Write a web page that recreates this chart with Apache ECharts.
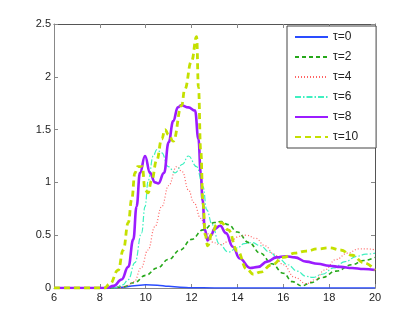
<!DOCTYPE html>
<html>
<head>
<meta charset="utf-8">
<script src="https://cdn.jsdelivr.net/npm/echarts@6/dist/echarts.min.js"></script>
<style>html,body{margin:0;padding:0;background:#fff;}#c{width:415px;height:324px;}</style>
</head>
<body>
<div id="c"></div>
<script>
var xTicks = [6, 8, 10, 12, 14, 16, 18, 20];
var yTicks = [0, 0.5, 1, 1.5, 2, 2.5];
var names = ['τ=0', 'τ=2', 'τ=4', 'τ=6', 'τ=8', 'τ=10'];

var x0 = [6, 8, 8.5, 9, 9.5, 10, 10.5, 11, 11.5, 12, 13, 20];
var y0 = [0, 0, 0.001, 0.008, 0.022, 0.03, 0.027, 0.017, 0.008, 0.003, 0, 0];

var x2 = [6, 8.4, 9, 9.5, 10, 10.5, 11, 11.5, 12, 12.5, 13, 13.3, 13.6, 14, 14.5, 15, 15.5, 16, 16.4, 16.8, 17.2, 17.7, 18.3, 19, 19.5, 20];
var y2 = [0, 0, 0.01, 0.05, 0.12, 0.19, 0.27, 0.36, 0.46, 0.55, 0.62, 0.63, 0.6, 0.53, 0.43, 0.33, 0.23, 0.14, 0.06, 0.02, 0.05, 0.1, 0.16, 0.22, 0.26, 0.29];

var x4 = [6, 8.8, 9.2, 9.5, 9.8, 10.1, 10.4, 10.7, 11, 11.35, 11.6, 11.86, 12.1, 12.4, 12.66, 12.95, 13.25, 13.7, 14.1, 14.4, 14.8, 15.2, 15.6, 16, 16.5, 17, 17.4, 17.8, 18.3, 18.8, 19.3, 19.7, 20];
var y4 = [0, 0, 0.02, 0.06, 0.19, 0.36, 0.58, 0.77, 0.97, 1.15, 1.1, 0.93, 0.81, 0.66, 0.52, 0.43, 0.41, 0.45, 0.49, 0.5, 0.47, 0.4, 0.32, 0.22, 0.1, 0.04, 0.08, 0.17, 0.27, 0.33, 0.37, 0.37, 0.36];

var x6 = [6, 8.6, 9.0, 9.24, 9.53, 9.82, 9.97, 10.11, 10.33, 10.48, 10.7, 10.98, 11.28, 11.6, 11.86, 12.22, 12.5, 12.66, 12.9, 13.2, 13.6, 14, 14.3, 14.65, 15, 15.4, 15.8, 16.2, 16.6, 17, 17.3, 17.7, 18.2, 18.7, 19.2, 19.6, 20];
var y6 = [0, 0, 0.03, 0.08, 0.24, 0.52, 0.77, 1.02, 1.25, 1.31, 1.28, 1.15, 1.09, 1.17, 1.25, 1.15, 0.96, 0.74, 0.6, 0.42, 0.34, 0.38, 0.42, 0.43, 0.4, 0.34, 0.28, 0.22, 0.16, 0.11, 0.1, 0.13, 0.19, 0.25, 0.3, 0.32, 0.33];

var x8 = [6, 8.3, 8.6, 8.95, 9.24, 9.46, 9.6, 9.75, 9.97, 10.19, 10.4, 10.55, 10.8, 11.0, 11.2, 11.4, 11.55, 11.86, 12.15, 12.3, 12.4, 12.48, 12.58, 12.7, 12.85, 13.0, 13.25, 13.5, 13.8, 14.1, 14.55, 14.9, 15.3, 15.7, 16.1, 16.5, 17, 17.5, 18, 18.5, 19, 19.5, 20];
var y8 = [0, 0, 0.02, 0.08, 0.2, 0.46, 0.77, 1.09, 1.25, 1.09, 1.0, 0.99, 1.09, 1.38, 1.58, 1.71, 1.73, 1.71, 1.68, 1.41, 1.09, 0.83, 0.55, 0.45, 0.5, 0.56, 0.59, 0.52, 0.39, 0.28, 0.19, 0.2, 0.25, 0.29, 0.3, 0.29, 0.25, 0.23, 0.21, 0.2, 0.19, 0.18, 0.17];

var x10 = [6, 8.2, 8.44, 8.8, 9.02, 9.24, 9.39, 9.53, 9.65, 9.85, 9.97, 10.1, 10.26, 10.48, 10.7, 10.84, 11.0, 11.2, 11.57, 11.7, 12.0, 12.22, 12.3, 12.4, 12.5, 12.6, 12.7, 12.9, 13.1, 13.3, 13.6, 14, 14.4, 14.7, 15, 15.5, 16, 16.5, 17, 17.5, 18, 18.5, 19, 19.5, 20];
var y10 = [0, 0, 0.04, 0.17, 0.36, 0.62, 0.84, 1.09, 1.15, 1.15, 0.93, 0.9, 1.02, 1.21, 1.41, 1.5, 1.45, 1.39, 1.73, 1.88, 2.15, 2.38, 1.9, 1.3, 0.8, 0.5, 0.4, 0.52, 0.6, 0.62, 0.55, 0.35, 0.18, 0.13, 0.15, 0.22, 0.29, 0.33, 0.35, 0.37, 0.38, 0.36, 0.31, 0.24, 0.17];

function pairs(xs, ys) { return xs.map(function (x, i) { return [x, ys[i]]; }); }

var styles = [
  { color: '#2a4cff', width: 1.5, type: 'solid' },
  { color: '#26a81a', width: 1.6, type: [4, 3] },
  { color: '#ff6464', width: 1.2, type: [1, 2] },
  { color: '#3ff0c0', width: 1.2, type: [6, 2, 1.5, 2] },
  { color: '#9b1cff', width: 2.6, type: 'solid' },
  { color: '#c4e000', width: 2.8, type: [6, 4] }
];
var datas = [pairs(x0, y0), pairs(x2, y2), pairs(x4, y4), pairs(x6, y6), pairs(x8, y8), pairs(x10, y10)];

var series = names.map(function (n, i) {
  return {
    name: n, type: 'line', data: datas[i], symbol: 'none', showSymbol: false,
    smooth: 0.45, smoothMonotone: 'x',
    itemStyle: { color: styles[i].color },
    lineStyle: { color: styles[i].color, width: styles[i].width, type: styles[i].type },
    xAxisIndex: 0, yAxisIndex: 0, clip: true
  };
});

var axisFont = { fontFamily: 'Liberation Sans, Arial, sans-serif', fontSize: 11, color: '#222' };
var chart = echarts.init(document.getElementById('c'), null, { renderer: 'canvas' });
chart.setOption({
  animation: false,
  backgroundColor: '#fff',
  grid: { left: 54, right: 40, top: 24, bottom: 36 },
  xAxis: [
    { type: 'value', min: xTicks[0], max: xTicks[xTicks.length - 1], interval: 2, position: 'bottom',
      axisLine: { show: true, onZero: false, lineStyle: { color: '#888', width: 1 } },
      axisTick: { show: true, inside: true, length: 4, lineStyle: { color: '#888' } },
      axisLabel: Object.assign({ margin: 4 }, axisFont), splitLine: { show: false } },
    { type: 'value', min: xTicks[0], max: xTicks[xTicks.length - 1], interval: 2, position: 'top',
      axisLine: { show: true, onZero: false, lineStyle: { color: '#555', width: 1 } },
      axisTick: { show: true, inside: true, length: 4, lineStyle: { color: '#888' } },
      axisLabel: { show: false }, splitLine: { show: false } }
  ],
  yAxis: [
    { type: 'value', min: yTicks[0], max: yTicks[yTicks.length - 1], interval: 0.5, position: 'left',
      axisLine: { show: true, onZero: false, lineStyle: { color: '#888', width: 1 } },
      axisTick: { show: true, inside: true, length: 4, lineStyle: { color: '#888' } },
      axisLabel: Object.assign({ margin: 3 }, axisFont), splitLine: { show: false } },
    { type: 'value', min: yTicks[0], max: yTicks[yTicks.length - 1], interval: 0.5, position: 'right',
      axisLine: { show: true, onZero: false, lineStyle: { color: '#555', width: 1 } },
      axisTick: { show: true, inside: true, length: 4, lineStyle: { color: '#888' } },
      axisLabel: { show: false }, splitLine: { show: false } }
  ],
  legend: {
    data: names, orient: 'vertical', left: 287, top: 26,
    itemWidth: 33, itemHeight: 10, itemGap: 8, padding: [5, 18, 5, 7],
    itemStyle: { color: 'transparent', borderWidth: 0, opacity: 0 },
    backgroundColor: '#fff', borderColor: '#444', borderWidth: 1, borderRadius: 0,
    textStyle: { fontFamily: 'Liberation Sans, Arial, sans-serif', fontSize: 12, color: '#222' },
    selectedMode: false
  },
  series: series
});
</script>
</body>
</html>
